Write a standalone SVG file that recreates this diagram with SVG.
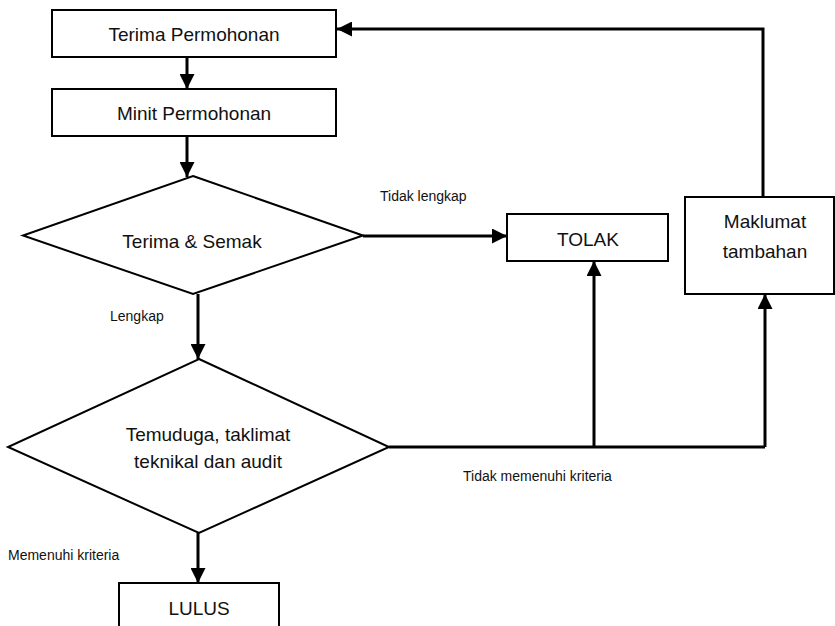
<svg xmlns="http://www.w3.org/2000/svg" width="835" height="626" viewBox="0 0 835 626">
<defs>
<style>
.box{fill:#fff;stroke:#000;stroke-width:2}
.dia{fill:#fff;stroke:#000;stroke-width:2;stroke-linejoin:miter}
.con{fill:none;stroke:#000;stroke-width:3}
.t{font-family:"Liberation Sans",Arial,sans-serif;font-size:19px;fill:#111;text-anchor:middle}
.s{font-family:"Liberation Sans",Arial,sans-serif;font-size:14px;fill:#111}
</style>
<marker id="ah" markerUnits="userSpaceOnUse" markerWidth="15" markerHeight="15" refX="15" refY="7.5" orient="auto">
<path d="M0,0 L15,7.5 L0,15 z" fill="#000"/>
</marker>
</defs>
<rect width="835" height="626" fill="#fff"/>
<g id="connectors">
<path class="con" d="M187,57 L187,89" marker-end="url(#ah)"/>
<path class="con" d="M187,136 L187,177" marker-end="url(#ah)"/>
<path class="con" d="M363,236 L507,236" marker-end="url(#ah)"/>
<path class="con" d="M198,294 L198,359" marker-end="url(#ah)"/>
<path class="con" d="M198,533 L198,583" marker-end="url(#ah)"/>
<path class="con" d="M389,447 L765,447"/>
<path class="con" d="M594,447 L594,261" marker-end="url(#ah)"/>
<path class="con" d="M765,447 L765,294" marker-end="url(#ah)"/>
<path class="con" d="M763,197 L763,29 L337,29" marker-end="url(#ah)"/>
</g>
<g id="terima-permohonan">
<rect class="box" x="52" y="10" width="284" height="47"/>
<text class="t" x="194" y="41">Terima Permohonan</text>
</g>
<g id="minit-permohonan">
<rect class="box" x="52" y="89" width="284" height="47"/>
<text class="t" x="194" y="120">Minit Permohonan</text>
</g>
<g id="terima-semak">
<polygon class="dia" points="193,176 363,235.5 193,294 23,235.5"/>
<text class="t" x="192" y="248">Terima &amp; Semak</text>
</g>
<g id="temuduga">
<polygon class="dia" points="199,359 389,447 199,533 8,447"/>
<text class="t" x="208" y="441">Temuduga, taklimat</text>
<text class="t" x="208" y="468">teknikal dan audit</text>
</g>
<g id="tolak">
<rect class="box" x="507" y="214" width="161" height="47"/>
<text class="t" x="588" y="246">TOLAK</text>
</g>
<g id="maklumat">
<rect class="box" x="685" y="197" width="149" height="97"/>
<text class="t" x="765" y="228">Maklumat</text>
<text class="t" x="765" y="258">tambahan</text>
</g>
<g id="lulus">
<rect class="box" x="119" y="583" width="160" height="60"/>
<text class="t" x="199" y="615">LULUS</text>
</g>
<g id="labels">
<text class="s" x="380" y="201">Tidak lengkap</text>
<text class="s" x="110" y="321">Lengkap</text>
<text class="s" x="463" y="481">Tidak memenuhi kriteria</text>
<text class="s" x="8" y="560">Memenuhi kriteria</text>
</g>
</svg>
